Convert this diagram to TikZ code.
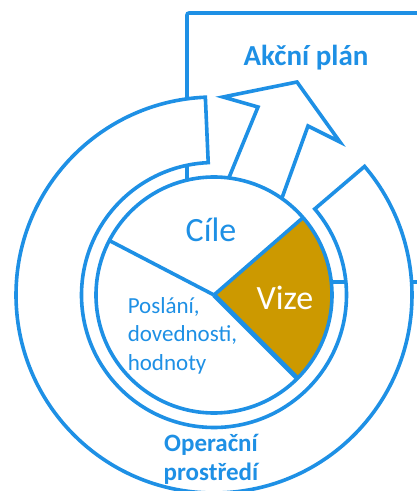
\documentclass[tikz,border=0pt]{standalone}
\usepackage{fontspec}
\setmainfont{Carlito}
\definecolor{blu}{RGB}{30,144,229}
\definecolor{gold}{RGB}{204,153,0}
\begin{document}
\begin{tikzpicture}[x=1pt,y=1pt,line width=3.6pt,line join=miter,
  edge/.style={draw=blu},
  shapefill/.style={draw=blu,fill=white},
  lbl/.style={text=blu,inner sep=0pt}]
\clip (0,0) rectangle (417,491);
\coordinate (C) at (214,196);
% action plan frame
\draw[edge,rounded corners=2pt] (187,209) -- (187,478) -- (445,478) -- (445,209) -- cycle;
% outer ring (operating environment)
\draw[shapefill] ([shift={(92.5:198)}]C) arc[start angle=92.5,end angle=400.5,radius=198]
  -- ([shift={(40.5:132.5)}]C) arc[start angle=40.5,end angle=-267.5,radius=132.5] -- cycle;
% big arrow
\draw[shapefill] (228.4,312) -- (258,384) -- (223,394) -- (297,409) -- (340,349) -- (308,365) -- (281.6,292) -- cycle;
% inner pie
\fill[white] (C) circle[radius=118];
\fill[gold] (C) -- ([shift={(-45:118)}]C) arc[start angle=-45,end angle=41,radius=118] -- cycle;
\draw[edge] (C) -- ([shift={(152.5:118)}]C);
\draw[edge] (C) -- ([shift={(41:118)}]C);
\draw[edge,line width=4.8pt] (C) -- ([shift={(-45:118)}]C);
\draw[edge] (C) circle[radius=118];
% texts
\node[lbl,font=\bfseries\fontsize{29}{35}\selectfont,anchor=base] (akce) at (306,425) {Akční plán};
\node[lbl,font=\fontsize{34}{40}\selectfont,anchor=base] (cile) at (211,249) {Cíle};
\node[inner sep=0pt,text=white,font=\fontsize{34}{40}\selectfont,anchor=base] (vize) at (285,181) {Vize};
\node[lbl,font=\fontsize{23}{28.5}\selectfont,align=left,anchor=base west] (posl) at (126,121) {Poslání,\\dovednosti,\\hodnoty};
\node[lbl,font=\bfseries\fontsize{25}{28}\selectfont,align=center,anchor=base] (oper) at (211,11) {Operační\\prostředí};
\end{tikzpicture}
\end{document}
